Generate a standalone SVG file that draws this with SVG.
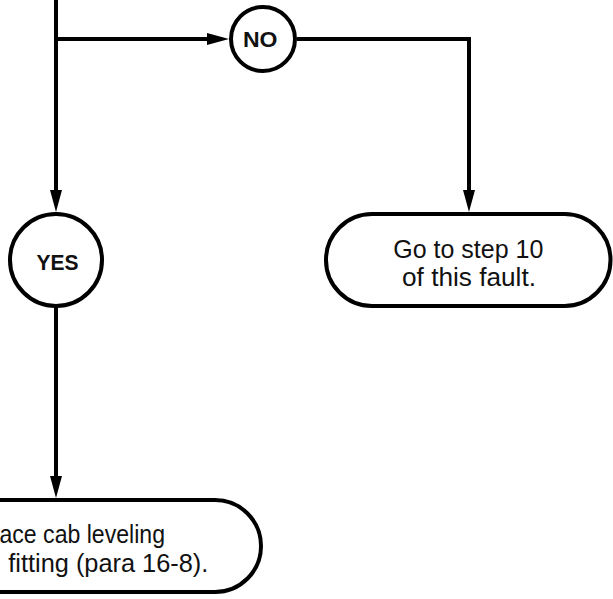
<svg xmlns="http://www.w3.org/2000/svg" width="613" height="599" viewBox="0 0 613 599">
<defs>
<style>
.shape{fill:#fff;stroke:#000;stroke-width:4}
.conn{fill:none;stroke:#000;stroke-width:4;stroke-linejoin:miter}
.bold{font-family:"Liberation Sans",Arial,sans-serif;font-weight:bold;font-size:22.5px;fill:#111}
.reg{font-family:"Liberation Sans",Arial,sans-serif;font-size:25px;fill:#111}
</style>
<marker id="arr" markerUnits="userSpaceOnUse" markerWidth="24" markerHeight="14" refX="12" refY="6" orient="auto" viewBox="0 0 24 14" overflow="visible">
<path d="M0,0 L22,6 L0,12 z" fill="#000"/>
</marker>
</defs>
<rect width="613" height="599" fill="#fff"/>
<g id="connectors">
<path class="conn" d="M56,0 V202" marker-end="url(#arr)"/>
<path class="conn" d="M56,39 H219" marker-end="url(#arr)"/>
<path class="conn" d="M297,39 H469 V202" marker-end="url(#arr)"/>
<path class="conn" d="M56,306 V488" marker-end="url(#arr)"/>
</g>
<g id="node-no">
<circle class="shape" cx="263" cy="39" r="32"/>
<text class="bold" x="243" y="47" textLength="34.5" lengthAdjust="spacingAndGlyphs">NO</text>
</g>
<g id="node-yes">
<circle class="shape" cx="56" cy="260" r="46"/>
<text class="bold" x="36.5" y="270" textLength="42" lengthAdjust="spacingAndGlyphs">YES</text>
</g>
<g id="node-goto">
<rect class="shape" x="326" y="214" width="284.5" height="92" rx="46" ry="46"/>
<text class="reg" x="393.3" y="257.5" textLength="150" lengthAdjust="spacingAndGlyphs">Go to step 10</text>
<text class="reg" x="402" y="286" textLength="134" lengthAdjust="spacingAndGlyphs">of this fault.</text>
</g>
<g id="node-replace">
<rect class="shape" x="-150" y="500" width="411" height="92" rx="46" ry="46"/>
<text class="reg" x="-0.5" y="543" textLength="165.5" lengthAdjust="spacingAndGlyphs">ace cab leveling</text>
<text class="reg" x="8.3" y="571.5" textLength="200" lengthAdjust="spacingAndGlyphs">fitting (para 16-8).</text>
</g>
</svg>
